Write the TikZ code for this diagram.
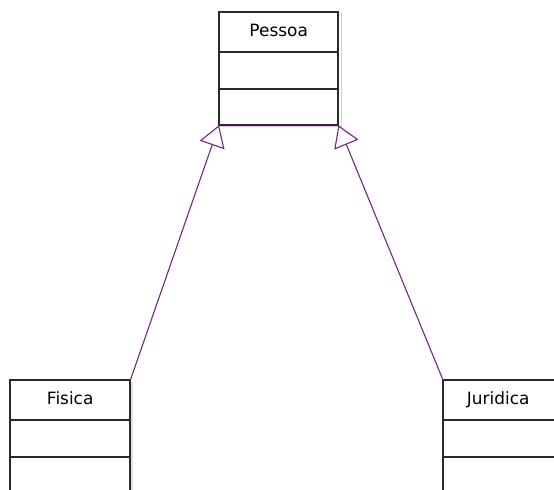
\documentclass[tikz,border=0pt]{standalone}
\usepackage{fontspec}
\setmainfont{DejaVu Sans}
\usetikzlibrary{arrows.meta}
\definecolor{edgepurple}{HTML}{6E2A82}
\definecolor{boxline}{HTML}{2A2A2A}
\definecolor{shadowpink}{HTML}{F2B8F0}
\begin{document}
\begin{tikzpicture}[x=1bp,y=-1bp,
  compartment/.style={rectangle, inner sep=0pt, anchor=north west,
    minimum width=119bp},
  namepart/.style={compartment, minimum height=40bp,
    text height=12bp, text depth=3bp,
    font=\fontsize{17}{20}\selectfont},
  bodypart/.style={compartment, minimum height=36bp},
  classline/.style={draw=boxline, line width=2bp},
  generalization/.style={draw=edgepurple, line width=1.1bp,
    -{Triangle[open, length=21bp, width=26bp, fill=white]}}]
\useasboundingbox (0,0) rectangle (554,490);
\clip (0,0) rectangle (554,490);

% Pessoa (superclass)
\draw[shadowpink, line width=1bp] (341,12) -- (341,127) -- (219,127);
\node[namepart] (pessoa) at (219,12) {Pessoa};
\node[bodypart] (pessoa-attr) at (pessoa.south west) {};
\node[bodypart] (pessoa-ops) at (pessoa-attr.south west) {};
\draw[classline] (pessoa.north west) rectangle (pessoa-ops.south east);
\draw[classline] (pessoa.south west) -- (pessoa.south east);
\draw[classline] (pessoa-attr.south west) -- (pessoa-attr.south east);

% Fisica
\fill[black!12] (130,382) rectangle (133,490);
\node[namepart, minimum width=120bp] (fisica) at (10,380) {Fisica};
\node[bodypart, minimum width=120bp] (fisica-attr) at (fisica.south west) {};
\node[bodypart, minimum width=120bp, minimum height=40bp] (fisica-ops) at (fisica-attr.south west) {};
\draw[classline] (fisica.north west) rectangle (fisica-ops.south east);
\draw[classline] (fisica.south west) -- (fisica.south east);
\draw[classline] (fisica-attr.south west) -- (fisica-attr.south east);

% Juridica
\node[namepart, minimum width=120bp] (juridica) at (443,380) {\hspace*{-10bp}Juridica};
\node[bodypart, minimum width=120bp] (juridica-attr) at (juridica.south west) {};
\node[bodypart, minimum width=120bp, minimum height=40bp] (juridica-ops) at (juridica-attr.south west) {};
\draw[classline] (juridica.north west) rectangle (juridica-ops.south east);
\draw[classline] (juridica.south west) -- (juridica.south east);
\draw[classline] (juridica-attr.south west) -- (juridica-attr.south east);

% Inheritance arrows
\draw[generalization] (fisica.north east) -- (pessoa-ops.south west);
\draw[generalization] (juridica.north west) -- (pessoa-ops.south east);
\end{tikzpicture}
\end{document}
